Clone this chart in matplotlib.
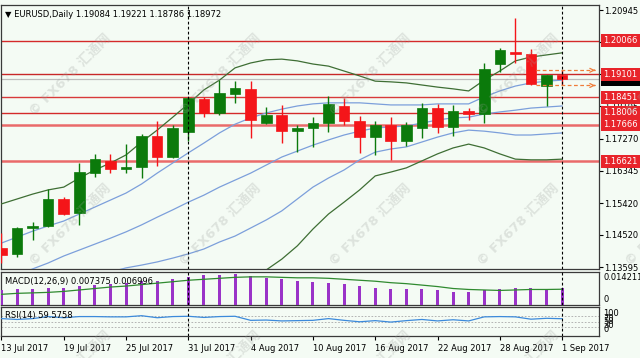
import numpy as np
import matplotlib.pyplot as plt
from matplotlib.transforms import blended_transform_factory

W, H = 640, 358

# daily candles, 13 Jul 2017 .. 1 Sep 2017
opens = [1.1414, 1.1397, 1.1471, 1.1477, 1.1554, 1.1514, 1.1628, 1.1663, 1.1640, 1.1645,
         1.1734, 1.1674, 1.1746, 1.1840, 1.1800, 1.1854, 1.1869, 1.1771, 1.1794, 1.1748,
         1.1757, 1.1771, 1.1820, 1.1777, 1.1731, 1.1766, 1.1720, 1.1757, 1.1814, 1.1760,
         1.1806, 1.1797, 1.1940, 1.1974, 1.1969, 1.1877, 1.19084]
highs = [1.1458, 1.1474, 1.1488, 1.1583, 1.1560, 1.1657, 1.1683, 1.1683, 1.1711, 1.1740,
         1.1777, 1.1766, 1.1846, 1.1846, 1.1894, 1.1891, 1.1891, 1.1817, 1.1823, 1.1766,
         1.1788, 1.1849, 1.1843, 1.1791, 1.1777, 1.1788, 1.1774, 1.1828, 1.1826, 1.1823,
         1.1814, 1.1943, 1.1986, 1.2072, 1.1983, 1.1910, 1.19221]
lows = [1.1371, 1.1388, 1.1437, 1.1474, 1.1508, 1.1480, 1.1617, 1.1628, 1.1628, 1.1614,
        1.1648, 1.1671, 1.1720, 1.1788, 1.1794, 1.1829, 1.1728, 1.1768, 1.1714, 1.1688,
        1.1703, 1.1746, 1.1766, 1.1686, 1.1680, 1.1666, 1.1706, 1.1728, 1.1743, 1.1734,
        1.1780, 1.1771, 1.1917, 1.1943, 1.1880, 1.1820, 1.18786]
closes = [1.1394, 1.1471, 1.1477, 1.1554, 1.1511, 1.1631, 1.1668, 1.1640, 1.1645, 1.1734,
          1.1674, 1.1757, 1.1843, 1.1800, 1.1857, 1.1871, 1.1780, 1.1794, 1.1748, 1.1757,
          1.1771, 1.1826, 1.1777, 1.1731, 1.1766, 1.1720, 1.1766, 1.1814, 1.1760, 1.1806,
          1.1797, 1.1926, 1.1980, 1.1969, 1.1883, 1.1909, 1.18972]

# bollinger bands (2 dev green, 1 dev blue, middle blue)
bb_up2 = [1.1540, 1.1554, 1.1568, 1.1580, 1.1588, 1.1614, 1.1637, 1.1657, 1.1680, 1.1717,
          1.1751, 1.1788, 1.1826, 1.1866, 1.1894, 1.1929, 1.1943, 1.1952, 1.1954, 1.1949,
          1.1940, 1.1934, 1.1920, 1.1906, 1.1891, 1.1889, 1.1886, 1.1880, 1.1874, 1.1869,
          1.1863, 1.1894, 1.1920, 1.1949, 1.1960, 1.1966, 1.1972]
bb_up1 = [1.1428, 1.1445, 1.1462, 1.1477, 1.1491, 1.1511, 1.1531, 1.1551, 1.1571, 1.1597,
          1.1628, 1.1657, 1.1686, 1.1714, 1.1743, 1.1768, 1.1786, 1.1800, 1.1811, 1.1820,
          1.1826, 1.1829, 1.1829, 1.1829, 1.1826, 1.1823, 1.1823, 1.1823, 1.1826, 1.1826,
          1.1826, 1.1846, 1.1863, 1.1877, 1.1886, 1.1891, 1.1894]
bb_mid = [1.1317, 1.1334, 1.1354, 1.1371, 1.1391, 1.1408, 1.1425, 1.1442, 1.1460, 1.1480,
          1.1502, 1.1523, 1.1545, 1.1565, 1.1588, 1.1608, 1.1628, 1.1651, 1.1674, 1.1691,
          1.1708, 1.1723, 1.1737, 1.1748, 1.1757, 1.1760, 1.1763, 1.1771, 1.1780, 1.1786,
          1.1788, 1.1797, 1.1803, 1.1808, 1.1814, 1.1817, 1.1820]
bb_lo1 = [1.1205, 1.1225, 1.1248, 1.1268, 1.1288, 1.1305, 1.1322, 1.1345, 1.1357, 1.1365,
          1.1374, 1.1385, 1.1397, 1.1411, 1.1431, 1.1448, 1.1471, 1.1494, 1.1520, 1.1554,
          1.1588, 1.1614, 1.1637, 1.1666, 1.1688, 1.1697, 1.1703, 1.1717, 1.1731, 1.1743,
          1.1751, 1.1748, 1.1743, 1.1737, 1.1737, 1.1740, 1.1743]
bb_lo2 = [1.1094, 1.1114, 1.1139, 1.1162, 1.1194, 1.1202, 1.1214, 1.1228, 1.1239, 1.1242,
          1.1254, 1.1257, 1.1265, 1.1265, 1.1282, 1.1288, 1.1314, 1.1351, 1.1382, 1.1420,
          1.1468, 1.1511, 1.1545, 1.1580, 1.1620, 1.1631, 1.1643, 1.1663, 1.1683, 1.1700,
          1.1711, 1.1700, 1.1683, 1.1668, 1.1666, 1.1666, 1.1668]

macd = [0.00646, 0.00689, 0.00689, 0.00775, 0.00775, 0.00861, 0.00904, 0.00947, 0.00990, 0.01077,
        0.01077, 0.01163, 0.01249, 0.01335, 0.01335, 0.01378, 0.01292, 0.01206, 0.01163, 0.01077,
        0.01033, 0.00990, 0.00947, 0.00861, 0.00775, 0.00732, 0.00689, 0.00689, 0.00646, 0.00560,
        0.00560, 0.00646, 0.00732, 0.00775, 0.00775, 0.00732, 0.007375]
signal = [0.00474, 0.00517, 0.00538, 0.00560, 0.00603, 0.00667, 0.00732, 0.00797, 0.00840, 0.00904,
          0.00969, 0.01033, 0.01098, 0.01141, 0.01184, 0.01227, 0.01249, 0.01249, 0.01227, 0.01206,
          0.01206, 0.01184, 0.01141, 0.01098, 0.01055, 0.00990, 0.00947, 0.00883, 0.00818, 0.00732,
          0.00689, 0.00667, 0.00646, 0.00667, 0.00689, 0.00689, 0.006996]
rsi = [60, 57, 60, 67, 63, 67, 67, 66, 66, 70, 63, 67, 68, 64, 67, 68, 54, 55, 52, 53,
       54, 60, 54, 49, 53, 48, 53, 57, 52, 56, 52, 66, 67, 66, 58, 61, 59.5758]

levels = [1.20066, 1.19101, 1.18451, 1.18006, 1.17666, 1.16621]
price_ticks = [1.20945, 1.20020, 1.19120, 1.18195, 1.17270, 1.16345, 1.15420, 1.14520, 1.13595]
hidden_ticks = [1.20020, 1.19120]
date_labels = ['13 Jul 2017', '19 Jul 2017', '25 Jul 2017', '31 Jul 2017', '4 Aug 2017',
               '10 Aug 2017', '16 Aug 2017', '22 Aug 2017', '28 Aug 2017', '1 Sep 2017']

bg = '#F4FBF4'
bull = '#0B7A0B'
bear = '#F41519'
fs = 6.0

plt.rcParams['font.family'] = ['DejaVu Sans', 'Noto Sans CJK SC']

fig = plt.figure(figsize=(W / 100, H / 100), dpi=100, facecolor=bg)


def px_axes(x0, y0, x1, y1):
    return fig.add_axes([x0 / W, 1 - y1 / H, (x1 - x0) / W, (y1 - y0) / H])


ax = px_axes(1, 5, 599, 269)
ax_m = px_axes(1, 272, 599, 305)
ax_r = px_axes(1, 307, 599, 336)

x = np.arange(len(opens))
o, h, l, c = map(np.array, (opens, highs, lows, closes))
xlim = (-0.03, 38.37)

for a in (ax, ax_m, ax_r):
    a.set_facecolor(bg)
    a.set_xlim(*xlim)
    for s in a.spines.values():
        s.set_color('#3a3a3a')
        s.set_linewidth(0.9)
    a.axvline(12, color='black', ls=(0, (2.5, 2)), lw=0.8, zorder=6)
    a.axvline(36, color='black', ls=(0, (2.5, 2)), lw=0.8, zorder=6)

# main price panel
ax.set_ylim(1.13538, 1.21088)
ax.axhline(closes[-1], color='#BDBDBD', lw=0.9, zorder=1)
lvl_col = ['#D42A2A', '#C82828', '#D83A3A', '#D42A2A', '#EA6A6A', '#EA6A6A']
lvl_lw = [1.0, 1.0, 1.0, 1.0, 1.8, 1.8]
for lv, col, lw in zip(levels, lvl_col, lvl_lw):
    ax.axhline(lv, color=col, lw=lw, zorder=2)

ax.plot(x, bb_up2, color='#3E6E34', lw=0.9, zorder=3)
ax.plot(x, bb_lo2, color='#3E6E34', lw=0.9, zorder=3)
for band in (bb_up1, bb_mid, bb_lo1):
    ax.plot(x, band, color='#7C9FDB', lw=0.9, zorder=3)

up = c >= o
colors = np.where(up, bull, bear)
ax.vlines(x, l, h, colors=colors, lw=1.0, zorder=4)
body = np.maximum(np.abs(c - o), 0.00022)
ax.bar(x, body, bottom=np.minimum(o, c), width=0.68, color=colors,
       edgecolor=colors, linewidth=0.5, zorder=5)

# day high / low arrows
for lv in (highs[-1], lows[-1]):
    ax.plot([34.35, 38.1], [lv, lv], color='#F07C3A', lw=0.9, ls=(0, (3, 2)), zorder=6)
    ax.annotate('', xy=(38.3, lv), xytext=(37.9, lv),
                arrowprops=dict(arrowstyle='->', color='#F07C3A', lw=0.9, mutation_scale=7),
                zorder=6)

ax.yaxis.tick_right()
ax.set_yticks(price_ticks)
ax.set_yticklabels(['' if t in hidden_ticks else f'{t:.5f}' for t in price_ticks], fontsize=fs)
ax.tick_params(axis='y', length=3, width=0.8, pad=1, colors='black')
ax.set_xticks([])

tr = blended_transform_factory(ax.transAxes, ax.transData)
ax.text(1.0 + 4.5 / 598, closes[-1], f'{closes[-1]:.5f}', transform=tr, ha='left', va='center',
        fontsize=fs, color='white', clip_on=False, zorder=10,
        bbox=dict(boxstyle='square,pad=0.25', fc='black', ec='none'))
for lv in levels:
    ax.text(1.0 + 4.5 / 598, lv, f'{lv:.5f}', transform=tr, ha='left', va='center',
            fontsize=fs, color='white', clip_on=False, zorder=11,
            bbox=dict(boxstyle='square,pad=0.25', fc='#E8242A', ec='none'))

ax.text(0.006, 0.965,
        f'\u25bc EURUSD,Daily {opens[-1]:.5f} {highs[-1]:.5f} {lows[-1]:.5f} {closes[-1]:.5f}',
        transform=ax.transAxes, ha='left', va='center', fontsize=fs, color='black', zorder=12)

# MACD panel
ax_m.set_ylim(0, 0.01464)
ax_m.bar(x, macd, width=0.19, color='#9A33C8', zorder=3)
ax_m.plot(x, signal, color='#2F8A2F', lw=0.9, zorder=4)
ax_m.set_xticks([])
ax_m.set_yticks([])
ax_m.text(0.006, 0.72, f'MACD(12,26,9) {macd[-1]:.6f} {signal[-1]:.6f}', transform=ax_m.transAxes,
          ha='left', va='center', fontsize=fs, zorder=12)
fig.text(603 / W, 1 - 278 / H, '0.014211', ha='left', va='center', fontsize=fs)
fig.text(603 / W, 1 - 299 / H, '0', ha='left', va='center', fontsize=fs)

# RSI panel
ax_r.set_ylim(0, 100)
for lv in (70, 50, 30):
    ax_r.axhline(lv, color='#A8A8A8', lw=0.6, ls=(0, (2, 2)), zorder=2)
ax_r.plot(x, rsi, color='#3C8ADB', lw=0.9, zorder=3)
ax_r.set_yticks([])
ax_r.text(0.006, 0.7, f'RSI(14) {rsi[-1]:.4f}', transform=ax_r.transAxes,
          ha='left', va='center', fontsize=fs, zorder=12)
for lab, ypx in (('100', 314), ('70', 318.5), ('50', 322), ('30', 326), ('0', 330)):
    fig.text(603 / W, 1 - ypx / H, lab, ha='left', va='center', fontsize=fs)

ax_r.set_xticks(x[::4])
ax_r.set_xticklabels(date_labels, ha='left', fontsize=fs)
ax_r.tick_params(axis='x', length=3, width=0.8, pad=2.5, colors='black')

# watermark
for wx in (70, 220, 370, 518, 666):
    for wy in (75, 225, 372):
        fig.text(wx / W, 1 - wy / H, '\u00a9 FX678 \u6c47\u901a\u7f51', rotation=45,
                 ha='center', va='center', fontsize=9.5, color='#9A9E9A', alpha=0.26,
                 fontweight='bold', zorder=20)

fig.savefig('out.png', dpi=100, facecolor=bg)
